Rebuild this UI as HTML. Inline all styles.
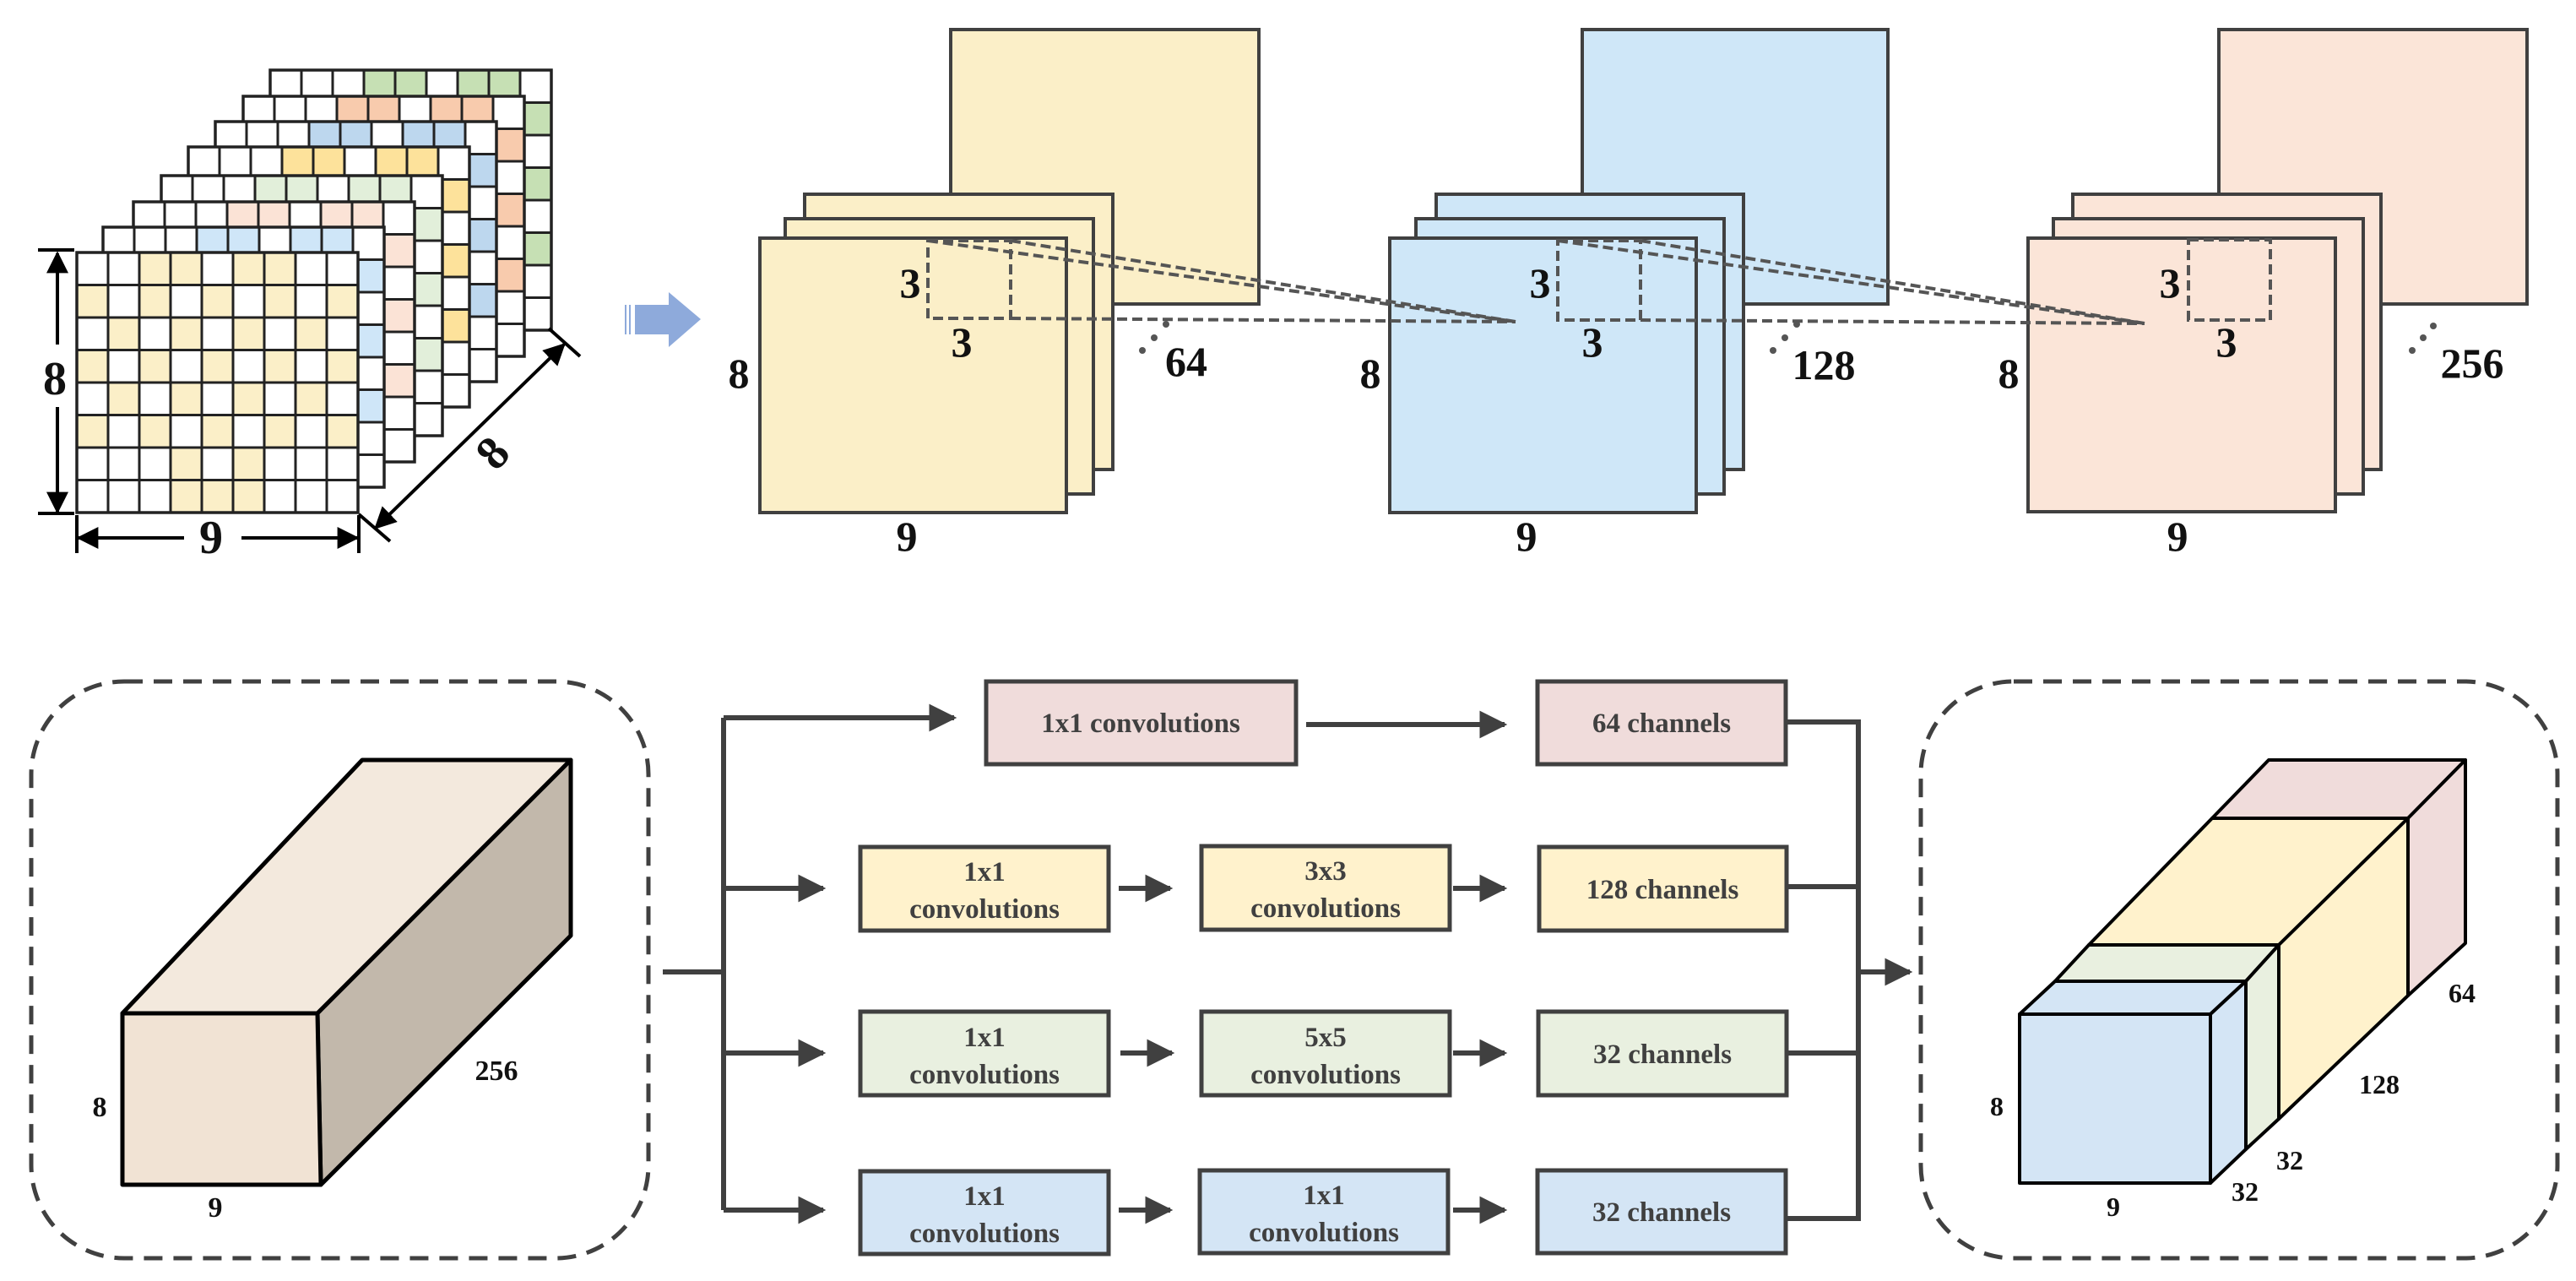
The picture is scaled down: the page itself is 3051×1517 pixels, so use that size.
<!DOCTYPE html>
<html><head><meta charset="utf-8"><style>
html,body{margin:0;padding:0;background:#fff;}
svg{display:block;}
text{font-family:"Liberation Serif","Times New Roman",Times,serif;font-weight:bold;fill:#111;}
.bt{font-size:33px;fill:#404040;text-anchor:middle;}
</style></head><body>
<svg width="3051" height="1517" viewBox="0 0 3051 1517" xmlns="http://www.w3.org/2000/svg">
<defs>
<g id="gl">
<path d="M37 0V308M74 0V308M111 0V308M148 0V308M185 0V308M222 0V308M259 0V308M296 0V308M0 38.5H333M0 77H333M0 115.5H333M0 154H333M0 192.5H333M0 231H333M0 269.5H333" stroke="#222" stroke-width="3" fill="none"/>
<rect x="0" y="0" width="333" height="308" fill="none" stroke="#222" stroke-width="3.5"/>
</g>
<g id="bc">
<rect x="111" y="0" width="74" height="38.5"/><rect x="222" y="0" width="74" height="38.5"/>
<rect x="296" y="38.5" width="37" height="38.5"/><rect x="296" y="115.5" width="37" height="38.5"/><rect x="296" y="192.5" width="37" height="38.5"/>
</g>
<marker id="ah" viewBox="0 0 10 10" refX="9" refY="5" markerWidth="5.5" markerHeight="5.5" orient="auto" markerUnits="strokeWidth"><path d="M0 0L10 5L0 10z" fill="#404040"/></marker>
<marker id="ak" viewBox="0 0 10 10" refX="9" refY="5" markerWidth="6.5" markerHeight="6.5" orient="auto-start-reverse" markerUnits="strokeWidth"><path d="M0 0L10 5L0 10z" fill="#000"/></marker>
</defs>

<g transform="translate(320,83)"><rect width="333" height="308" fill="#fff"/><use href="#bc" fill="#c6e0b4"/><use href="#gl"/></g>
<g transform="translate(288,114)"><rect width="333" height="308" fill="#fff"/><use href="#bc" fill="#f8cbad"/><use href="#gl"/></g>
<g transform="translate(255,144)"><rect width="333" height="308" fill="#fff"/><use href="#bc" fill="#bdd7ee"/><use href="#gl"/></g>
<g transform="translate(223,174)"><rect width="333" height="308" fill="#fff"/><use href="#bc" fill="#fde29b"/><use href="#gl"/></g>
<g transform="translate(191,208)"><rect width="333" height="308" fill="#fff"/><use href="#bc" fill="#e2efda"/><use href="#gl"/></g>
<g transform="translate(158,239)"><rect width="333" height="308" fill="#fff"/><use href="#bc" fill="#fbe3d6"/><use href="#gl"/></g>
<g transform="translate(122,269)"><rect width="333" height="308" fill="#fff"/><use href="#bc" fill="#cfe6f8"/><use href="#gl"/></g>
<g transform="translate(91,299)"><rect width="333" height="308" fill="#fff"/>
<g fill="#fbefc8">
<rect x="74" y="0" width="74" height="38.5"/><rect x="185" y="0" width="74" height="38.5"/>
<rect x="0" y="38.5" width="37" height="38.5"/><rect x="74" y="38.5" width="37" height="38.5"/><rect x="148" y="38.5" width="37" height="38.5"/><rect x="222" y="38.5" width="37" height="38.5"/><rect x="296" y="38.5" width="37" height="38.5"/>
<rect x="37" y="77" width="37" height="38.5"/><rect x="111" y="77" width="37" height="38.5"/><rect x="185" y="77" width="37" height="38.5"/><rect x="259" y="77" width="37" height="38.5"/>
<rect x="0" y="115.5" width="37" height="38.5"/><rect x="74" y="115.5" width="37" height="38.5"/><rect x="148" y="115.5" width="37" height="38.5"/><rect x="222" y="115.5" width="37" height="38.5"/><rect x="296" y="115.5" width="37" height="38.5"/>
<rect x="37" y="154" width="37" height="38.5"/><rect x="111" y="154" width="37" height="38.5"/><rect x="185" y="154" width="37" height="38.5"/><rect x="259" y="154" width="37" height="38.5"/>
<rect x="0" y="192.5" width="37" height="38.5"/><rect x="74" y="192.5" width="37" height="38.5"/><rect x="148" y="192.5" width="37" height="38.5"/><rect x="222" y="192.5" width="37" height="38.5"/><rect x="296" y="192.5" width="37" height="38.5"/>
<rect x="111" y="231" width="37" height="38.5"/><rect x="185" y="231" width="37" height="38.5"/>
<rect x="111" y="269.5" width="111" height="38.5"/>
</g><use href="#gl"/></g>

<g stroke="#000" stroke-width="4" fill="none">
<path d="M45 296H88M45 608H88"/>
<path d="M68 300V408" marker-start="url(#ak)"/>
<path d="M68 482V606" marker-end="url(#ak)"/>
<path d="M91 610V655M425 610V655"/>
<path d="M93 637H218" marker-start="url(#ak)"/>
<path d="M286 637H423" marker-end="url(#ak)"/>
<path d="M425 609L462 641M650 389L687 422"/>
<path d="M445 625L668 408" marker-start="url(#ak)" marker-end="url(#ak)"/>
</g>
<text x="65" y="467" font-size="56" text-anchor="middle">8</text>
<text x="250" y="655" font-size="56" text-anchor="middle">9</text>
<text x="583" y="555" font-size="56" text-anchor="middle" transform="rotate(-48 583 536)">8</text>

<path d="M752 361H792V346L830 378L792 411V396H752Z" fill="#8eaadb"/>
<path d="M741 361V396M746 361V396" stroke="#8eaadb" stroke-width="2"/>

<g stroke="#404040" stroke-width="4">
<rect x="1126" y="35" width="365" height="325" fill="#fbefc8"/>
<rect x="953" y="230" width="365" height="326" fill="#fbefc8"/>
<rect x="930" y="259" width="365" height="326" fill="#fbefc8"/>
<rect x="900" y="282" width="363" height="325" fill="#fbefc8"/>
<rect x="1874" y="35" width="362" height="325" fill="#cfe7f8"/>
<rect x="1701" y="230" width="364" height="326" fill="#cfe7f8"/>
<rect x="1677" y="259" width="365" height="326" fill="#cfe7f8"/>
<rect x="1646" y="282" width="363" height="325" fill="#cfe7f8"/>
<rect x="2628" y="35" width="365" height="325" fill="#fbe5d8"/>
<rect x="2455" y="230" width="365" height="326" fill="#fbe5d8"/>
<rect x="2432" y="259" width="367" height="326" fill="#fbe5d8"/>
<rect x="2402" y="282" width="364" height="324" fill="#fbe5d8"/>
</g>
<g stroke="#555" stroke-width="4" fill="none" stroke-dasharray="12 6">
<rect x="1099" y="285" width="98" height="92"/>
<rect x="1845" y="285" width="98" height="94"/>
<rect x="2592" y="284" width="97" height="95"/>
<path d="M1099 285L1795 381M1197 285L1795 381M1197 377L1795 381"/>
<path d="M1845 285L2540 383M1943 285L2540 383M1943 379L2540 383"/>
</g>
<g fill="#555">
<circle cx="1381" cy="384" r="4"/><circle cx="1367" cy="400" r="4"/><circle cx="1353" cy="415" r="4"/>
<circle cx="2128" cy="384" r="4"/><circle cx="2114" cy="400" r="4"/><circle cx="2100" cy="415" r="4"/>
<circle cx="2882" cy="386" r="4"/><circle cx="2870" cy="400" r="4"/><circle cx="2857" cy="415" r="4"/>
</g>
<g font-size="50" text-anchor="middle">
<text x="1078" y="352">3</text><text x="1139" y="422">3</text><text x="875" y="459">8</text><text x="1074" y="652">9</text><text x="1405" y="445">64</text>
<text x="1824" y="352">3</text><text x="1886" y="422">3</text><text x="1623" y="459">8</text><text x="1808" y="652">9</text><text x="2160" y="449">128</text>
<text x="2570" y="352">3</text><text x="2637" y="422">3</text><text x="2379" y="459">8</text><text x="2579" y="652">9</text><text x="2928" y="447">256</text>
</g>

<g stroke="#404040" stroke-width="5" fill="none" stroke-dasharray="22 13">
<rect x="37" y="807" width="731" height="683" rx="110"/>
<rect x="2275" y="807" width="754" height="683" rx="110"/>
</g>

<g stroke="#000" stroke-width="5" stroke-linejoin="round">
<path d="M145 1200L429 900L676 900L376 1200Z" fill="#f3e9dd"/>
<path d="M376 1200L676 900L676 1108L380 1403Z" fill="#c2b8ab"/>
<path d="M145 1200L376 1200L380 1403L145 1403Z" fill="#f1e3d4"/>
</g>
<g font-size="34" text-anchor="middle"><text x="118" y="1322">8</text><text x="255" y="1441">9</text><text x="588" y="1279">256</text></g>

<g stroke="#404040" stroke-width="6" fill="none">
<path d="M785 1151H857M857 850V1433"/>
<path d="M857 850H1130" marker-end="url(#ah)"/>
<path d="M1547 858H1782" marker-end="url(#ah)"/>
<path d="M857 1052H975" marker-end="url(#ah)"/>
<path d="M1325 1052H1386" marker-end="url(#ah)"/>
<path d="M1721 1052H1782" marker-end="url(#ah)"/>
<path d="M857 1247H975" marker-end="url(#ah)"/>
<path d="M1327 1247H1388" marker-end="url(#ah)"/>
<path d="M1721 1247H1782" marker-end="url(#ah)"/>
<path d="M857 1433H975" marker-end="url(#ah)"/>
<path d="M1325 1433H1386" marker-end="url(#ah)"/>
<path d="M1721 1433H1782" marker-end="url(#ah)"/>
<path d="M2115 855H2201V1443H2115M2116 1050H2201M2116 1247H2201"/>
<path d="M2201 1151H2262" marker-end="url(#ah)"/>
</g>
<g stroke="#404040" stroke-width="5">
<rect x="1168" y="807" width="367" height="98" fill="#f0dcdb"/>
<rect x="1821" y="807" width="294" height="98" fill="#f0dcdb"/>
<rect x="1019" y="1003" width="294" height="99" fill="#fff2cc"/>
<rect x="1423" y="1002" width="294" height="99" fill="#fff2cc"/>
<rect x="1823" y="1003" width="293" height="99" fill="#fff2cc"/>
<rect x="1019" y="1198" width="294" height="99" fill="#e9f0e0"/>
<rect x="1423" y="1198" width="294" height="99" fill="#e9f0e0"/>
<rect x="1822" y="1198" width="294" height="99" fill="#e9f0e0"/>
<rect x="1019" y="1387" width="294" height="98" fill="#d4e5f5"/>
<rect x="1421" y="1386" width="294" height="98" fill="#d4e5f5"/>
<rect x="1821" y="1386" width="294" height="98" fill="#d4e5f5"/>
</g>
<g>
<text class="bt" x="1351" y="867">1x1 convolutions</text>
<text class="bt" x="1968" y="867">64 channels</text>
<text class="bt" x="1166" y="1043">1x1</text><text class="bt" x="1166" y="1087">convolutions</text>
<text class="bt" x="1570" y="1042">3x3</text><text class="bt" x="1570" y="1086">convolutions</text>
<text class="bt" x="1969" y="1064">128 channels</text>
<text class="bt" x="1166" y="1239">1x1</text><text class="bt" x="1166" y="1283">convolutions</text>
<text class="bt" x="1570" y="1239">5x5</text><text class="bt" x="1570" y="1283">convolutions</text>
<text class="bt" x="1969" y="1259">32 channels</text>
<text class="bt" x="1166" y="1427">1x1</text><text class="bt" x="1166" y="1471">convolutions</text>
<text class="bt" x="1568" y="1426">1x1</text><text class="bt" x="1568" y="1470">convolutions</text>
<text class="bt" x="1968" y="1446">32 channels</text>
</g>

<g stroke="#000" stroke-width="4" stroke-linejoin="round">
<path d="M2620 969L2687 900L2920 900L2852 969Z" fill="#f0dcdb"/>
<path d="M2852 969L2920 900L2920 1117L2852 1179Z" fill="#f0dcdb"/>
<path d="M2474 1119L2620 969L2852 969L2699 1119Z" fill="#fff2cc"/>
<path d="M2699 1119L2852 969L2852 1179L2699 1325Z" fill="#fff2cc"/>
<path d="M2434 1162L2474 1119L2699 1119L2660 1162Z" fill="#e9f0e0"/>
<path d="M2660 1162L2699 1119L2699 1325L2660 1361Z" fill="#e9f0e0"/>
<path d="M2392 1201L2434 1162L2660 1162L2618 1201Z" fill="#d4e5f5"/>
<path d="M2618 1201L2660 1162L2660 1361L2618 1401Z" fill="#d4e5f5"/>
<rect x="2392" y="1201" width="226" height="200" fill="#d4e5f5"/>
</g>
<g font-size="32" text-anchor="middle">
<text x="2365" y="1321">8</text><text x="2503" y="1440">9</text><text x="2659" y="1422">32</text><text x="2712" y="1385">32</text><text x="2818" y="1295">128</text><text x="2916" y="1187">64</text>
</g>
</svg>
</body></html>
